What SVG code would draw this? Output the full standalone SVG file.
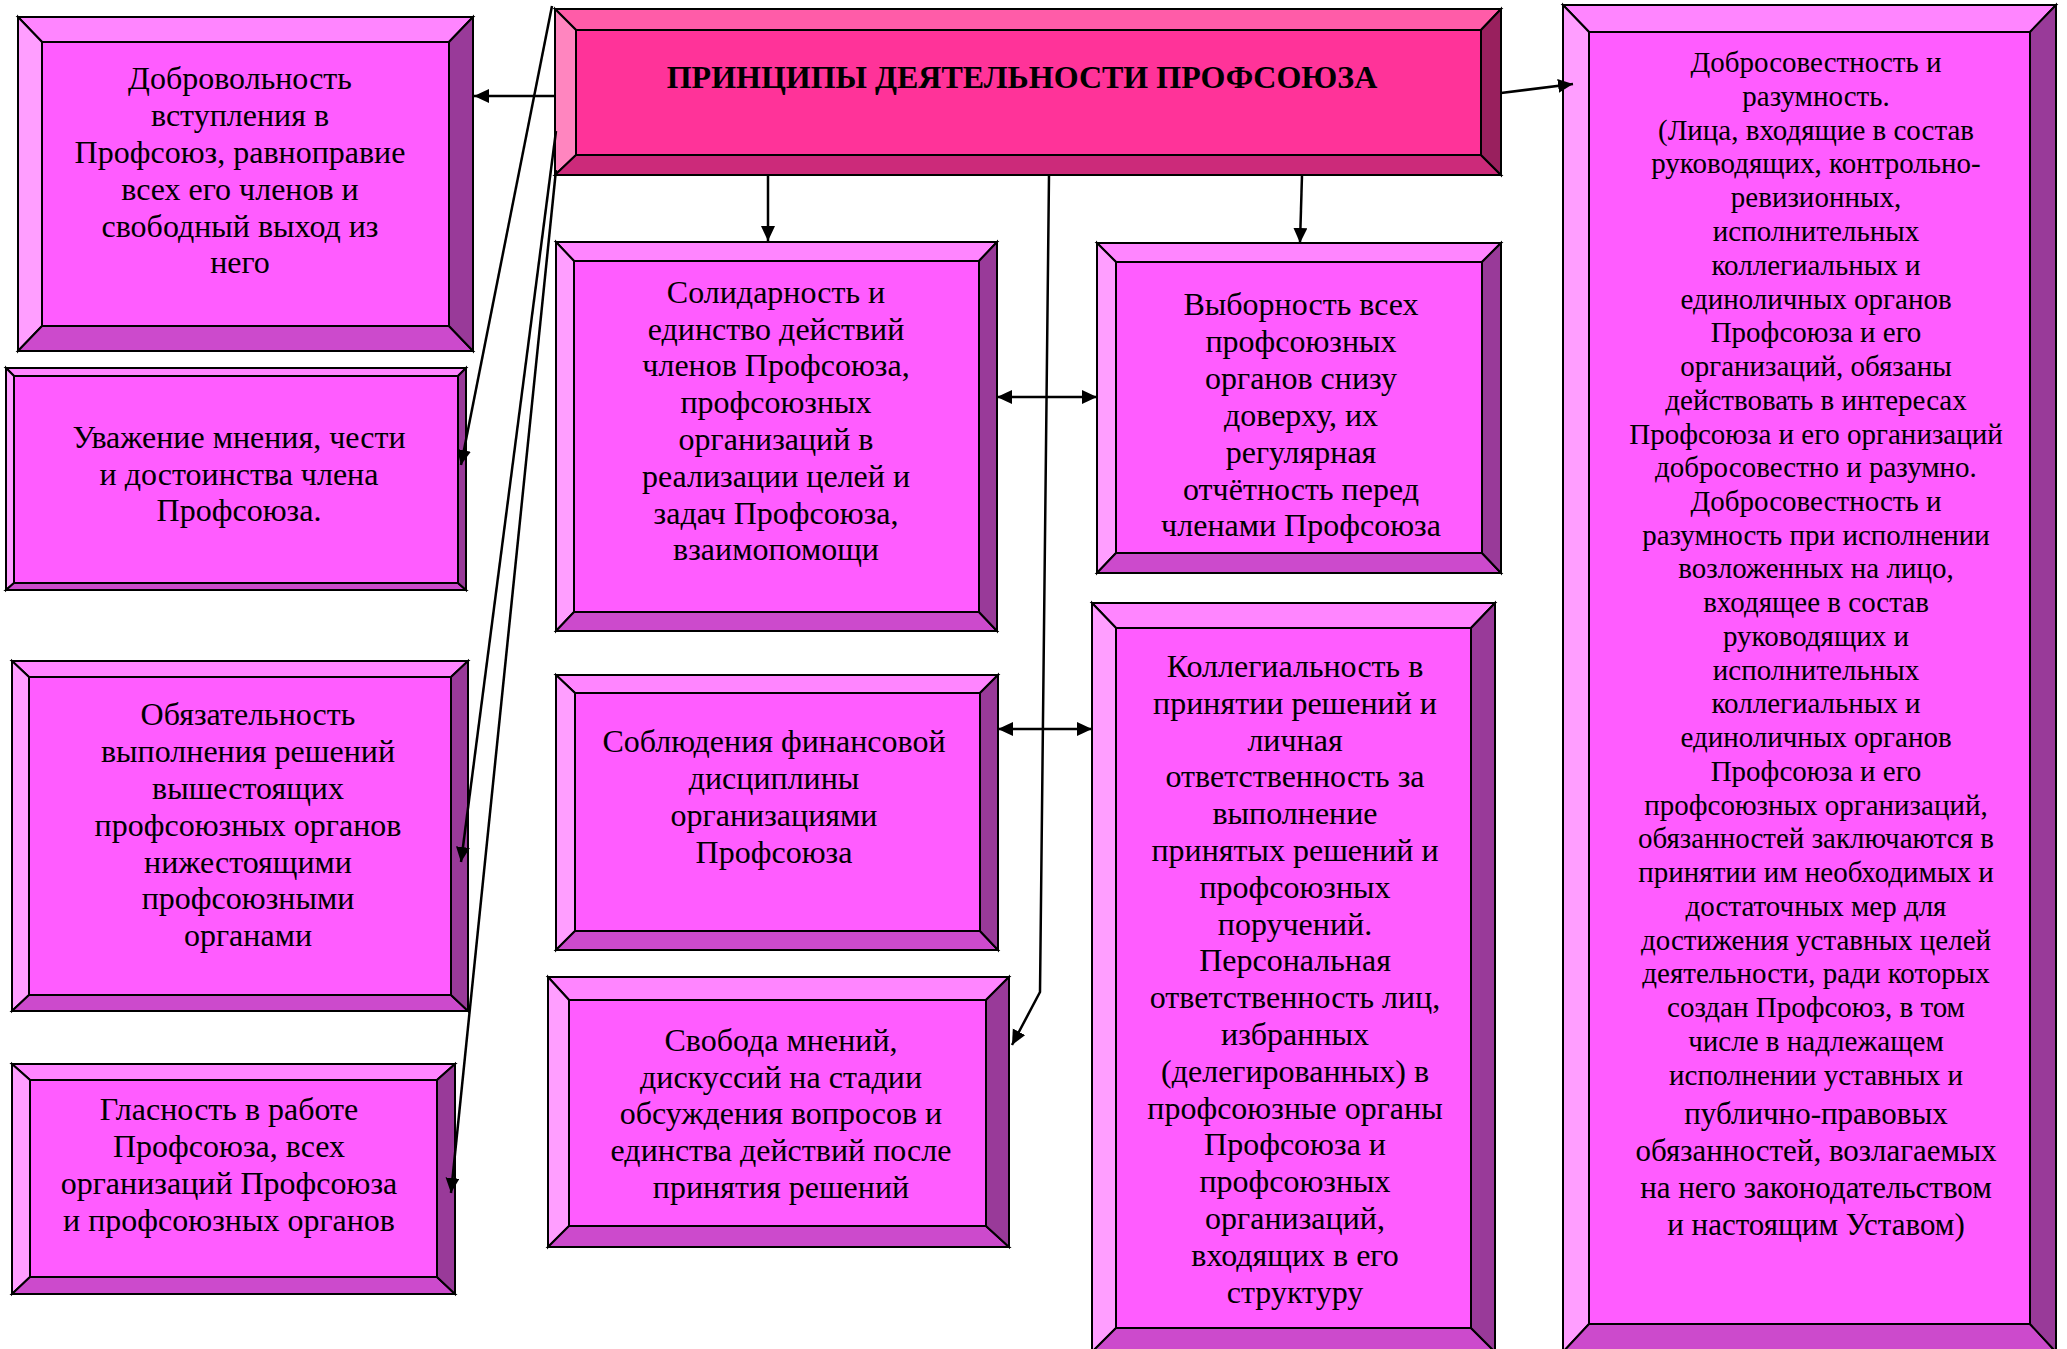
<svg xmlns="http://www.w3.org/2000/svg" width="2067" height="1349" viewBox="0 0 2067 1349">
<style>
  .edge{stroke:#000;stroke-width:2;stroke-linejoin:miter}
  .face{fill:#FF5CFF}
  .bt{fill:#FF85FF}
  .bl{fill:#FF9EFF}
  .bb{fill:#CC4ACC}
  .br{fill:#993A99}
  .hface{fill:#FF3399}
  .hbt{fill:#FF5CA8}
  .hbl{fill:#FF85BF}
  .hbb{fill:#CC2A7A}
  .hbr{fill:#99205E}
  .t{font-family:"Liberation Serif","Times New Roman",serif;font-size:32px;text-anchor:middle;fill:#000}
  .s{font-size:29px}
  .m{font-size:31px}
  .h{font-weight:bold}
  .ln{stroke:#000;stroke-width:2.5;fill:none}
</style>
<defs>
  <marker id="ah" markerUnits="userSpaceOnUse" markerWidth="16" markerHeight="16" refX="15" refY="7" orient="auto-start-reverse">
    <path d="M0,0 L15,7 L0,14 z" fill="#000"/>
  </marker>
</defs>

<g id="header">
  <polygon class="hbt edge" points="555,9 1501,9 1481,30 576,30"/>
  <polygon class="hbl edge" points="555,9 576,30 576,155 555,175"/>
  <polygon class="hbb edge" points="555,175 576,155 1481,155 1501,175"/>
  <polygon class="hbr edge" points="1501,9 1501,175 1481,155 1481,30"/>
  <rect class="hface edge" x="576" y="30" width="905" height="125"/>
  <text class="t h" x="1022" y="88">ПРИНЦИПЫ ДЕЯТЕЛЬНОСТИ ПРОФСОЮЗА</text>
</g>

<g id="box1">
  <polygon class="bt edge" points="18,17 473,17 449,42 42,42"/>
  <polygon class="bl edge" points="18,17 42,42 42,326 18,351"/>
  <polygon class="bb edge" points="18,351 42,326 449,326 473,351"/>
  <polygon class="br edge" points="473,17 473,351 449,326 449,42"/>
  <rect class="face edge" x="42" y="42" width="407" height="284"/>
  <text class="t" x="240" y="89">Добровольность</text>
  <text class="t" x="240" y="126">вступления в</text>
  <text class="t" x="240" y="163">Профсоюз, равноправие</text>
  <text class="t" x="240" y="200">всех его членов и</text>
  <text class="t" x="240" y="237">свободный выход из</text>
  <text class="t" x="240" y="273">него</text>
</g>

<g id="box2">
  <polygon class="bt edge" points="6,368 466,368 458,376 14,376"/>
  <polygon class="bl edge" points="6,368 14,376 14,583 6,590"/>
  <polygon class="bb edge" points="6,590 14,583 458,583 466,590"/>
  <polygon class="br edge" points="466,368 466,590 458,583 458,376"/>
  <rect class="face edge" x="14" y="376" width="444" height="207"/>
  <text class="t" x="239" y="448">Уважение мнения, чести</text>
  <text class="t" x="239" y="485">и достоинства члена</text>
  <text class="t" x="239" y="521">Профсоюза.</text>
</g>

<g id="box3">
  <polygon class="bt edge" points="12,661 468,661 451,677 29,677"/>
  <polygon class="bl edge" points="12,661 29,677 29,995 12,1011"/>
  <polygon class="bb edge" points="12,1011 29,995 451,995 468,1011"/>
  <polygon class="br edge" points="468,661 468,1011 451,995 451,677"/>
  <rect class="face edge" x="29" y="677" width="422" height="318"/>
  <text class="t" x="248" y="725">Обязательность</text>
  <text class="t" x="248" y="762">выполнения решений</text>
  <text class="t" x="248" y="799">вышестоящих</text>
  <text class="t" x="248" y="836">профсоюзных органов</text>
  <text class="t" x="248" y="873">нижестоящими</text>
  <text class="t" x="248" y="909">профсоюзными</text>
  <text class="t" x="248" y="946">органами</text>
</g>

<g id="box4">
  <polygon class="bt edge" points="12,1064 455,1064 437,1080 30,1080"/>
  <polygon class="bl edge" points="12,1064 30,1080 30,1277 12,1294"/>
  <polygon class="bb edge" points="12,1294 30,1277 437,1277 455,1294"/>
  <polygon class="br edge" points="455,1064 455,1294 437,1277 437,1080"/>
  <rect class="face edge" x="30" y="1080" width="407" height="197"/>
  <text class="t" x="229" y="1120">Гласность в работе</text>
  <text class="t" x="229" y="1157">Профсоюза, всех</text>
  <text class="t" x="229" y="1194">организаций Профсоюза</text>
  <text class="t" x="229" y="1231">и профсоюзных органов</text>
</g>

<g id="box-solidarity">
  <polygon class="bt edge" points="556,242 997,242 979,261 574,261"/>
  <polygon class="bl edge" points="556,242 574,261 574,612 556,631"/>
  <polygon class="bb edge" points="556,631 574,612 979,612 997,631"/>
  <polygon class="br edge" points="997,242 997,631 979,612 979,261"/>
  <rect class="face edge" x="574" y="261" width="405" height="351"/>
  <text class="t" x="776" y="303">Солидарность и</text>
  <text class="t" x="776" y="340">единство действий</text>
  <text class="t" x="776" y="376">членов Профсоюза,</text>
  <text class="t" x="776" y="413">профсоюзных</text>
  <text class="t" x="776" y="450">организаций в</text>
  <text class="t" x="776" y="487">реализации целей и</text>
  <text class="t" x="776" y="524">задач Профсоюза,</text>
  <text class="t" x="776" y="560">взаимопомощи</text>
</g>

<g id="box-elections">
  <polygon class="bt edge" points="1097,243 1501,243 1482,262 1116,262"/>
  <polygon class="bl edge" points="1097,243 1116,262 1116,553 1097,573"/>
  <polygon class="bb edge" points="1097,573 1116,553 1482,553 1501,573"/>
  <polygon class="br edge" points="1501,243 1501,573 1482,553 1482,262"/>
  <rect class="face edge" x="1116" y="262" width="366" height="291"/>
  <text class="t" x="1301" y="315">Выборность всех</text>
  <text class="t" x="1301" y="352">профсоюзных</text>
  <text class="t" x="1301" y="389">органов снизу</text>
  <text class="t" x="1301" y="426">доверху, их</text>
  <text class="t" x="1301" y="463">регулярная</text>
  <text class="t" x="1301" y="500">отчётность перед</text>
  <text class="t" x="1301" y="536">членами Профсоюза</text>
</g>

<g id="box-finance">
  <polygon class="bt edge" points="556,675 998,675 980,693 575,693"/>
  <polygon class="bl edge" points="556,675 575,693 575,931 556,950"/>
  <polygon class="bb edge" points="556,950 575,931 980,931 998,950"/>
  <polygon class="br edge" points="998,675 998,950 980,931 980,693"/>
  <rect class="face edge" x="575" y="693" width="405" height="238"/>
  <text class="t" x="774" y="752">Соблюдения финансовой</text>
  <text class="t" x="774" y="789">дисциплины</text>
  <text class="t" x="774" y="826">организациями</text>
  <text class="t" x="774" y="863">Профсоюза</text>
</g>

<g id="box-freedom">
  <polygon class="bt edge" points="548,977 1009,977 986,1000 569,1000"/>
  <polygon class="bl edge" points="548,977 569,1000 569,1226 548,1247"/>
  <polygon class="bb edge" points="548,1247 569,1226 986,1226 1009,1247"/>
  <polygon class="br edge" points="1009,977 1009,1247 986,1226 986,1000"/>
  <rect class="face edge" x="569" y="1000" width="417" height="226"/>
  <text class="t" x="781" y="1051">Свобода мнений,</text>
  <text class="t" x="781" y="1088">дискуссий на стадии</text>
  <text class="t" x="781" y="1124">обсуждения вопросов и</text>
  <text class="t" x="781" y="1161">единства действий после</text>
  <text class="t" x="781" y="1198">принятия решений</text>
</g>

<g id="box-collegiality">
  <polygon class="bt edge" points="1092,603 1495,603 1471,628 1116,628"/>
  <polygon class="bl edge" points="1092,603 1116,628 1116,1328 1092,1352"/>
  <polygon class="bb edge" points="1092,1352 1116,1328 1471,1328 1495,1352"/>
  <polygon class="br edge" points="1495,603 1495,1352 1471,1328 1471,628"/>
  <rect class="face edge" x="1116" y="628" width="355" height="700"/>
  <text class="t" x="1295" y="677">Коллегиальность в</text>
  <text class="t" x="1295" y="714">принятии решений и</text>
  <text class="t" x="1295" y="751">личная</text>
  <text class="t" x="1295" y="787">ответственность за</text>
  <text class="t" x="1295" y="824">выполнение</text>
  <text class="t" x="1295" y="861">принятых решений и</text>
  <text class="t" x="1295" y="898">профсоюзных</text>
  <text class="t" x="1295" y="935">поручений.</text>
  <text class="t" x="1295" y="971">Персональная</text>
  <text class="t" x="1295" y="1008">ответственность лиц,</text>
  <text class="t" x="1295" y="1045">избранных</text>
  <text class="t" x="1295" y="1082">(делегированных) в</text>
  <text class="t" x="1295" y="1119">профсоюзные органы</text>
  <text class="t" x="1295" y="1155">Профсоюза и</text>
  <text class="t" x="1295" y="1192">профсоюзных</text>
  <text class="t" x="1295" y="1229">организаций,</text>
  <text class="t" x="1295" y="1266">входящих в его</text>
  <text class="t" x="1295" y="1303">структуру</text>
</g>

<g id="box-integrity">
  <polygon class="bt edge" points="1563,5 2056,5 2030,32 1589,32"/>
  <polygon class="bl edge" points="1563,5 1589,32 1589,1324 1563,1352"/>
  <polygon class="bb edge" points="1563,1352 1589,1324 2030,1324 2056,1352"/>
  <polygon class="br edge" points="2056,5 2056,1352 2030,1324 2030,32"/>
  <rect class="face edge" x="1589" y="32" width="441" height="1292"/>
  <text class="t s" x="1816" y="72">Добросовестность и</text>
  <text class="t s" x="1816" y="106">разумность.</text>
  <text class="t s" x="1816" y="140">(Лица, входящие в состав</text>
  <text class="t s" x="1816" y="173">руководящих, контрольно-</text>
  <text class="t s" x="1816" y="207">ревизионных,</text>
  <text class="t s" x="1816" y="241">исполнительных</text>
  <text class="t s" x="1816" y="275">коллегиальных и</text>
  <text class="t s" x="1816" y="309">единоличных органов</text>
  <text class="t s" x="1816" y="342">Профсоюза и его</text>
  <text class="t s" x="1816" y="376">организаций, обязаны</text>
  <text class="t s" x="1816" y="410">действовать в интересах</text>
  <text class="t s" x="1816" y="444">Профсоюза и его организаций</text>
  <text class="t s" x="1816" y="477">добросовестно и разумно.</text>
  <text class="t s" x="1816" y="511">Добросовестность и</text>
  <text class="t s" x="1816" y="545">разумность при исполнении</text>
  <text class="t s" x="1816" y="578">возложенных на лицо,</text>
  <text class="t s" x="1816" y="612">входящее в состав</text>
  <text class="t s" x="1816" y="646">руководящих и</text>
  <text class="t s" x="1816" y="680">исполнительных</text>
  <text class="t s" x="1816" y="713">коллегиальных и</text>
  <text class="t s" x="1816" y="747">единоличных органов</text>
  <text class="t s" x="1816" y="781">Профсоюза и его</text>
  <text class="t s" x="1816" y="815">профсоюзных организаций,</text>
  <text class="t s" x="1816" y="848">обязанностей заключаются в</text>
  <text class="t s" x="1816" y="882">принятии им необходимых и</text>
  <text class="t s" x="1816" y="916">достаточных мер для</text>
  <text class="t s" x="1816" y="950">достижения уставных целей</text>
  <text class="t s" x="1816" y="983">деятельности, ради которых</text>
  <text class="t s" x="1816" y="1017">создан Профсоюз, в том</text>
  <text class="t s" x="1816" y="1051">числе в надлежащем</text>
  <text class="t s" x="1816" y="1085">исполнении уставных и</text>
  <text class="t m" x="1816" y="1124">публично-правовых</text>
  <text class="t m" x="1816" y="1161">обязанностей, возлагаемых</text>
  <text class="t m" x="1816" y="1198">на него законодательством</text>
  <text class="t m" x="1816" y="1235">и настоящим Уставом)</text>
</g>

<g id="connectors">
  <line class="ln" x1="555" y1="96" x2="474" y2="96" marker-end="url(#ah)"/>
  <line class="ln" x1="552" y1="6" x2="461" y2="465" marker-end="url(#ah)"/>
  <line class="ln" x1="556" y1="131" x2="461" y2="862" marker-end="url(#ah)"/>
  <line class="ln" x1="556" y1="170" x2="451" y2="1193" marker-end="url(#ah)"/>
  <line class="ln" x1="1501" y1="93" x2="1573" y2="84" marker-end="url(#ah)"/>
  <line class="ln" x1="768" y1="175" x2="768" y2="241" marker-end="url(#ah)"/>
  <line class="ln" x1="1302" y1="175" x2="1300" y2="243" marker-end="url(#ah)"/>
  <polyline class="ln" points="1049,175 1040,992 1012,1045" marker-end="url(#ah)"/>
  <line class="ln" x1="997" y1="397" x2="1097" y2="397" marker-start="url(#ah)" marker-end="url(#ah)"/>
  <line class="ln" x1="998" y1="729" x2="1092" y2="729" marker-start="url(#ah)" marker-end="url(#ah)"/>
</g>
</svg>
